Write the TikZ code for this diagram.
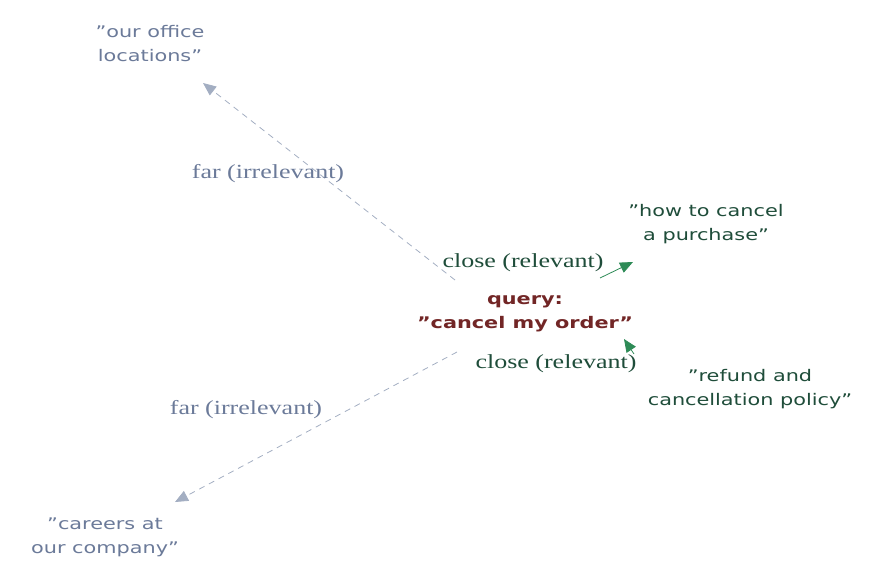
\documentclass[tikz,border=0pt]{standalone}
\usepackage{fontspec}
\setmainfont[FakeStretch=1.3]{DejaVu Sans}
\newfontfamily\lblfont[FakeStretch=1.3]{Liberation Serif}
\newcommand\dq{\symbol{34}}
\usetikzlibrary{arrows.meta}
\definecolor{qred}{HTML}{722626}
\definecolor{dgreen}{HTML}{1F4D3A}
\definecolor{agreen}{HTML}{2E8B57}
\definecolor{gtext}{HTML}{6B7A99}
\definecolor{gline}{HTML}{A3AEC2}
\begin{document}
\begin{tikzpicture}[x=1pt,y=-1pt,
  doc/.style={align=center,font=\fontsize{16}{24}\selectfont,inner sep=1pt},
  far/.style={doc,text=gtext},
  near/.style={doc,text=dgreen},
  lbl/.style={font=\lblfont\fontsize{20}{22}\selectfont,inner sep=1pt},
  farE/.style={draw=gline,thick,dashed,dash pattern=on 6pt off 5pt,-{Triangle[length=13pt,width=11pt]}},
  nearE/.style={draw=agreen,thick,-{Triangle[length=13pt,width=11pt]}}]
\useasboundingbox (0,0) rectangle (889,587);
\node[doc,text=qred,font=\bfseries\fontsize{16}{24}\selectfont] (q) at (525,314) {query:\\\dq cancel my order\dq};
\node[far] (o) at (150,44) {\dq our office\\locations\dq};
\node[near] (h) at (706,224) {\dq how to cancel\\a purchase\dq};
\node[near] (r) at (750,389) {\dq refund and\\cancellation policy\dq};
\node[far] (c) at (105,537) {\dq careers at\\our company\dq};
\coordinate (s1) at (455,280); \coordinate (t1) at (203,83);
\coordinate (s2) at (600,278); \coordinate (t2) at (633,262);
\coordinate (s3) at (634,354); \coordinate (t3) at (624,339);
\coordinate (s4) at (457,352); \coordinate (t4) at (175,502);
\draw[farE] (s1) -- (t1);
\draw[farE] (s4) -- (t4);
\draw[nearE] (s2) -- (t2);
\draw[nearE] (s3) -- (t3);
\node[lbl,text=gtext] (l1) at (268,174) {far (irrelevant)};
\node[lbl,text=gtext] (l4) at (246,410) {far (irrelevant)};
\node[lbl,text=dgreen] (l2) at (523,263) {close (relevant)};
\node[lbl,text=dgreen] (l3) at (556,364) {close (relevant)};
\end{tikzpicture}
\end{document}
